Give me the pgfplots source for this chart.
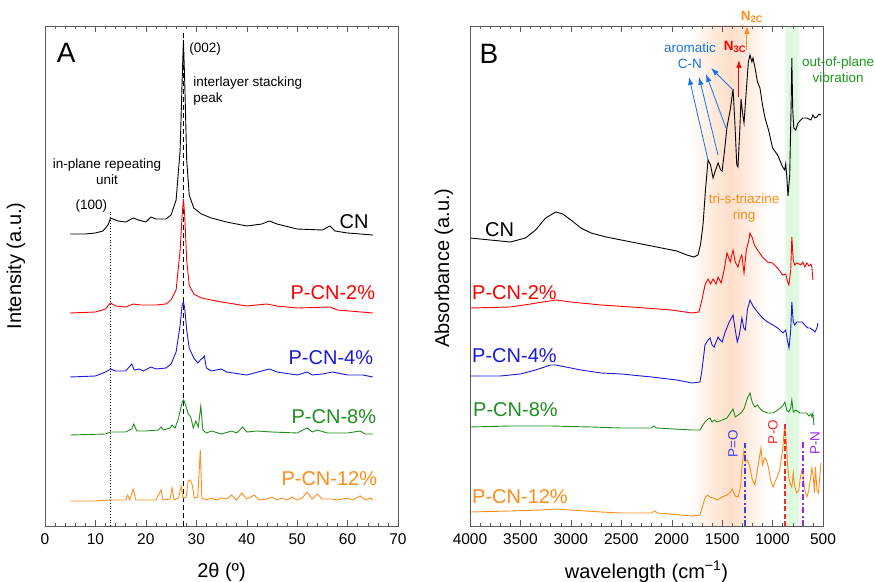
\documentclass[border=0pt]{standalone}
\usepackage{fontspec}
\setmainfont{Liberation Sans}
\usepackage{pgfplots}
\pgfplotsset{compat=1.18}
\usetikzlibrary{arrows.meta}
\definecolor{cblue}{rgb}{0.1,0.1,0.85}
\definecolor{cgreen}{rgb}{0.12,0.56,0.12}
\definecolor{corange}{rgb}{1,0.55,0.1}
\definecolor{arrblue}{rgb}{0.1,0.45,0.9}
\definecolor{lgreen}{rgb}{0.1,0.6,0.1}
\definecolor{pocol}{rgb}{0.25,0.25,0.92}
\definecolor{pncol}{rgb}{0.6,0.15,0.95}
\definecolor{bandA}{rgb}{0.995,0.93,0.88}
\definecolor{bandB}{rgb}{0.99,0.87,0.79}
\definecolor{bandC}{rgb}{0.995,0.915,0.86}
\definecolor{bandgr}{rgb}{0.88,0.97,0.88}
\newcommand\fA{\fontsize{15.5}{18}\selectfont}
\newcommand\fL{\fontsize{20}{24}\selectfont}
\newcommand\fS{\fontsize{13.5}{16}\selectfont}
\newcommand\fB{\fontsize{28}{32}\selectfont}
\pgfplotsset{
  common/.style={
    width=353pt, height=500pt, scale only axis,
    ymin=0, ymax=500, ytick=\empty,
    axis line style={black!65},
    every tick/.style={black!65},
    tick align=inside,
    major tick length=6pt, minor tick length=3.5pt,
    minor x tick num=4,
    xtick pos=both,
    /pgf/number format/assume math mode=true,
    /pgf/number format/1000 sep={},
    tick label style={font=\fA},
    xticklabel style={yshift=-4pt},
    label style={font=\fL},
    every axis x label/.append style={at={(axis description cs:0.5,0)},anchor=center,yshift=-46pt},
    clip=false,
    axis on top,
    every axis plot/.append style={line width=0.9pt, mark=none},
  }
}
\begin{document}
\begin{tikzpicture}
\path[use as bounding box] (0,0) rectangle (875pt,581pt);
% ---------------- Panel A ----------------
\begin{axis}[common, at={(45pt,55pt)}, anchor=south west,
  xmin=0, xmax=70, xtick={0,10,...,70},
  xlabel={2θ (º)}, ylabel={Intensity (a.u.)},
  every axis y label/.append style={at={(axis description cs:0,0.52)},anchor=center,yshift=29pt}]
\draw[black, dotted, line width=0.8pt] (axis cs:13,0) -- (axis cs:13,316);
\draw[black, dash pattern=on 5pt off 3pt, line width=0.8pt] (axis cs:27.45,0) -- (axis cs:27.45,496);
\addplot[black] coordinates {(5,292)(8,292)(10,293)(11.5,295)(12.5,301)(13,308)(13.5,307)(14.5,305)(16,304)(17.5,308)(18.5,306)(20,304)(21,309)(22,307)(24,307)(25,311)(26,326)(26.8,376)(27.2,446)(27.45,486)(27.7,446)(28.1,366)(28.6,331)(29.5,318)(31,312)(33,308)(36,304)(40,300)(43,302)(44.5,305)(46,302)(50,297)(55,296)(56.5,300)(57.5,295)(60,293)(65,291)};
\addplot[red] coordinates {(5,213)(10,214)(12,217)(13,223)(14,220)(16,219)(17.5,222)(19,221)(22,221)(24,222)(25,226)(26,236)(26.8,276)(27.2,311)(27.45,327)(27.7,311)(28.1,266)(28.6,241)(29.5,232)(31,228)(35,224)(40,220)(44,222)(46,220)(50,218)(56.5,219)(58,216)(65,213)};
\addplot[cblue] coordinates {(5,149)(10,150)(12,154)(13,157)(14,155)(16,155)(17.2,162)(17.7,156)(18.7,157)(19.5,155)(21,159)(22,157)(24,158)(25,162)(26,174)(26.8,201)(27.2,221)(27.45,224)(27.7,218)(28.1,196)(28.6,178)(29.5,168)(30.3,163)(30.8,166)(31.3,168)(31.6,170)(32,158)(33,155)(35,157)(36,154)(40,151)(44.5,157)(46,154)(50,151)(52,154)(53,151)(55,152)(57,154)(60,151)(63,151)(65,149)};
\addplot[cgreen] coordinates {(5,91)(12,92)(13,94)(16,94)(17.2,97)(17.6,102)(18.2,95)(20,95)(22.5,96)(23,99)(23.5,96)(24.8,98)(25.2,101)(25.8,98)(26.5,108)(27.2,124)(27.5,126)(27.9,121)(28.4,112)(28.9,109)(29.4,98)(29.9,105)(30.4,99)(30.9,120)(31.3,96)(32,93)(33,95)(35,92)(37,95)(38,93)(39.2,99)(40,94)(42,95)(45,94)(50,93)(52,98)(53,94)(54,96)(56,93)(60,93)(62.5,95)(63.5,92)(65,92)};
\addplot[corange] coordinates {(5,25)(10,25)(12.5,26)(16,26)(16.4,31)(16.8,26)(17.5,37)(18,26)(22,26)(23,36)(23.4,26)(24.8,27)(25.2,38)(25.6,26)(26.5,28)(27,40)(27.4,28)(28,29)(28.4,45)(28.8,46)(29.2,41)(29.6,28)(30.3,29)(30.8,76)(31.1,28)(32,26)(33,28)(34,26)(35,28)(36,27)(37,31)(38,26)(39,33)(40,27)(41.5,31)(42.5,26)(44,27)(45,29)(46,26)(47,28)(48,26)(49,29)(50,26)(51,28)(52,34)(53,27)(54,32)(55,27)(57,27)(58,26)(60,28)(61,26)(62.5,30)(63.5,26)(64.5,28)(65,26)};
\node[font=\fB] at (axis cs:4.2,473) {A};
\node[font=\fS, anchor=west, inner sep=0pt] at (axis cs:28.6,477) {(002)};
\node[font=\fS, anchor=west, align=left, inner sep=0pt] at (axis cs:29.4,435) {interlayer stacking\\peak};
\node[font=\fS, align=center, inner sep=0pt] at (axis cs:12.3,354) {in-plane repeating\\unit};
\node[font=\fS, inner sep=0pt] at (axis cs:9.2,320) {(100)};
\node[font=\fL, anchor=east, inner sep=0pt] at (axis cs:64.2,304) {CN};
\node[font=\fL, anchor=east, inner sep=0pt, text=red] at (axis cs:65.5,233) {P-CN-2\%};
\node[font=\fL, anchor=east, inner sep=0pt, text=cblue] at (axis cs:65.1,168) {P-CN-4\%};
\node[font=\fL, anchor=east, inner sep=0pt, text=cgreen] at (axis cs:65.7,109) {P-CN-8\%};
\node[font=\fL, anchor=east, inner sep=0pt, text=corange] at (axis cs:65.9,47) {P-CN-12\%};
\end{axis}
% ---------------- Panel B ----------------
\begin{axis}[common, at={(470pt,55pt)}, anchor=south west,
  xmin=500, xmax=4000, x dir=reverse, xtick={500,1000,...,4000},
  xlabel={wavelength (cm\textsuperscript{−1})}, ylabel={Absorbance (a.u.)},
  every axis y label/.append style={at={(axis description cs:0,0.516)},anchor=center,yshift=26pt}]
% bands
\fill[left color=white, right color=bandA, draw=none] (axis cs:1820,0) rectangle (axis cs:1620,500);
\fill[left color=bandA, right color=bandB, draw=none] (axis cs:1620,0) rectangle (axis cs:1422,500);
\fill[left color=bandB, right color=bandC, draw=none] (axis cs:1422,0) rectangle (axis cs:1273,500);
\fill[left color=bandC, right color=white, draw=none] (axis cs:1273,0) rectangle (axis cs:1045,500);
\fill[left color=white, right color=bandgr, draw=none] (axis cs:900,0) rectangle (axis cs:857,500);
\fill[bandgr, draw=none] (axis cs:857,0) rectangle (axis cs:760,500);
\fill[left color=bandgr, right color=white, draw=none] (axis cs:760,0) rectangle (axis cs:715,500);
\addplot[black] coordinates {(4000,288)(3800,286)(3600,284)(3450,288)(3350,296)(3250,308)(3150,314)(3080,312)(3000,306)(2900,298)(2800,293)(2650,289)(2500,286)(2300,282)(2100,278)(1950,275)(1850,271)(1780,269)(1740,271)(1715,281)(1690,301)(1665,336)(1640,366)(1615,361)(1590,348)(1565,356)(1540,363)(1515,356)(1500,355)(1470,381)(1452,399)(1420,416)(1392,437)(1375,406)(1355,361)(1343,359)(1325,396)(1313,427)(1295,411)(1283,403)(1260,436)(1240,464)(1224,471)(1205,464)(1194,468)(1170,456)(1150,444)(1125,438)(1100,421)(1075,408)(1040,396)(1000,378)(950,371)(900,359)(880,356)(870,362)(860,351)(847,330)(830,351)(815,426)(809,468)(800,416)(790,398)(770,396)(748,403)(720,406)(700,408)(660,408)(620,406)(600,411)(580,408)(560,409)(540,412)(520,411)};
\addplot[red] coordinates {(4000,218)(3600,219)(3400,222)(3150,226)(3000,224)(2700,221)(2400,219)(2000,216)(1800,213)(1730,214)(1700,226)(1670,241)(1640,247)(1615,242)(1590,247)(1560,242)(1540,249)(1510,243)(1480,256)(1452,273)(1420,264)(1392,276)(1370,264)(1343,259)(1320,268)(1305,271)(1283,253)(1260,276)(1235,286)(1224,293)(1200,288)(1180,281)(1150,276)(1100,269)(1050,264)(1000,263)(950,258)(900,251)(870,252)(850,244)(838,241)(820,256)(809,289)(795,266)(780,261)(760,263)(720,261)(700,264)(680,259)(660,263)(640,260)(620,262)(610,259)(600,246)};
\addplot[cblue] coordinates {(4000,150)(3700,150)(3500,152)(3350,156)(3200,161)(3150,161)(3050,159)(2900,156)(2700,153)(2500,152)(2200,149)(1950,146)(1800,143)(1720,144)(1700,156)(1670,181)(1640,186)(1620,188)(1600,181)(1580,179)(1560,184)(1540,189)(1520,186)(1500,184)(1470,194)(1430,204)(1392,211)(1370,196)(1350,184)(1330,191)(1304,208)(1285,198)(1270,196)(1250,216)(1224,226)(1200,221)(1180,218)(1150,214)(1100,208)(1050,204)(996,201)(950,198)(897,193)(870,196)(850,184)(837,178)(820,196)(809,224)(795,204)(780,201)(760,204)(709,204)(680,201)(650,198)(630,198)(600,196)(580,194)(560,198)(550,203)};
\addplot[cgreen] coordinates {(4000,99)(3600,100)(3200,100)(2800,99)(2500,98)(2200,98)(2180,100)(2150,98)(1800,96)(1720,96)(1690,101)(1670,104)(1640,107)(1620,108)(1600,104)(1575,106)(1550,104)(1500,106)(1452,108)(1420,113)(1392,117)(1370,109)(1340,111)(1304,114)(1280,118)(1250,128)(1224,133)(1200,123)(1175,119)(1150,121)(1130,118)(1100,115)(1050,113)(996,113)(950,116)(900,120)(878,124)(860,116)(840,114)(820,118)(809,126)(795,114)(770,116)(730,113)(700,113)(660,113)(640,110)(620,112)(610,109)(600,113)(590,101)};
\addplot[corange] coordinates {(4000,14)(3600,15)(3300,16)(3150,17)(3000,16)(2700,14)(2500,13)(2200,13)(2170,15)(2140,13)(1800,10)(1720,11)(1690,21)(1670,28)(1645,31)(1620,29)(1590,28)(1550,26)(1500,29)(1452,31)(1420,34)(1400,37)(1370,30)(1340,29)(1315,41)(1304,59)(1285,75)(1270,64)(1250,66)(1230,61)(1200,46)(1175,41)(1150,56)(1130,69)(1115,78)(1100,61)(1080,68)(1060,66)(1040,58)(1020,46)(996,39)(960,48)(930,56)(900,76)(885,96)(878,99)(865,86)(850,59)(835,46)(820,41)(809,39)(795,53)(780,39)(760,33)(740,36)(725,48)(709,56)(700,53)(680,36)(660,29)(640,36)(610,58)(595,48)(585,33)(575,59)(560,36)(545,33)(530,51)(520,63)};
% dashed marker lines
\draw[pocol, dash pattern=on 6pt off 2.5pt on 2pt off 2.5pt, line width=1.1pt] (axis cs:1273,0) -- (axis cs:1273,83);
\draw[red!85, dash pattern=on 5pt off 2.5pt, line width=1.1pt] (axis cs:877,0) -- (axis cs:877,104);
\draw[pncol, dash pattern=on 6pt off 2.5pt on 2pt off 2.5pt, line width=1.1pt] (axis cs:698,0) -- (axis cs:698,86);
\node[font=\fS, rotate=90, text=pocol, inner sep=0pt] at (axis cs:1392,82) {P=O};
\node[font=\fS, rotate=90, text=red!85, inner sep=0pt] at (axis cs:996,94) {P-O};
\node[font=\fS, rotate=90, text=pncol, inner sep=0pt] at (axis cs:580,83) {P-N};
% arrows
\draw[arrblue, line width=0.8pt, -{Latex[length=8pt,width=5.5pt]}] (axis cs:1640,366) -- (axis cs:1829,449);
\draw[arrblue, line width=0.8pt, -{Latex[length=8pt,width=5.5pt]}] (axis cs:1541,371) -- (axis cs:1729,449);
\draw[arrblue, line width=0.8pt, -{Latex[length=8pt,width=5.5pt]}] (axis cs:1462,398) -- (axis cs:1660,452);
\draw[arrblue, line width=0.8pt, -{Latex[length=8pt,width=5.5pt]}] (axis cs:1402,437) -- (axis cs:1610,458);
\draw[red, line width=1pt, -{Latex[length=8pt,width=5.5pt]}] (axis cs:1333,429) -- (axis cs:1333,466);
\draw[corange, line width=1pt, -{Latex[length=8pt,width=5.5pt]}] (axis cs:1254,476) -- (axis cs:1254,500);
\node[font=\fS, text=arrblue, align=center, inner sep=0pt] at (axis cs:1819,470) {aromatic\\C-N};
\node[font=\fS, text=red, inner sep=0pt] at (axis cs:1373,479) {\textbf{N\textsubscript{3C}}};
\node[font=\fS, text=corange, inner sep=0pt] at (axis cs:1204,509) {\textbf{N\textsubscript{2C}}};
\node[font=\fS, text=lgreen, align=center, inner sep=0pt] at (axis cs:351,456) {out-of-plane\\vibration};
\node[font=\fS, text=corange, align=center, inner sep=0pt] at (axis cs:1283,318) {tri-s-triazine\\ring};
\node[font=\fB] at (axis cs:3812,472) {B};
\node[font=\fL, anchor=west, inner sep=0pt] at (axis cs:3851,296) {CN};
\node[font=\fL, anchor=west, inner sep=0pt, text=red] at (axis cs:3980,233) {P-CN-2\%};
\node[font=\fL, anchor=west, inner sep=0pt, text=cblue] at (axis cs:3980,170) {P-CN-4\%};
\node[font=\fL, anchor=west, inner sep=0pt, text=cgreen] at (axis cs:3970,116) {P-CN-8\%};
\node[font=\fL, anchor=west, inner sep=0pt, text=corange] at (axis cs:3980,29) {P-CN-12\%};
\end{axis}
\end{tikzpicture}
\end{document}
